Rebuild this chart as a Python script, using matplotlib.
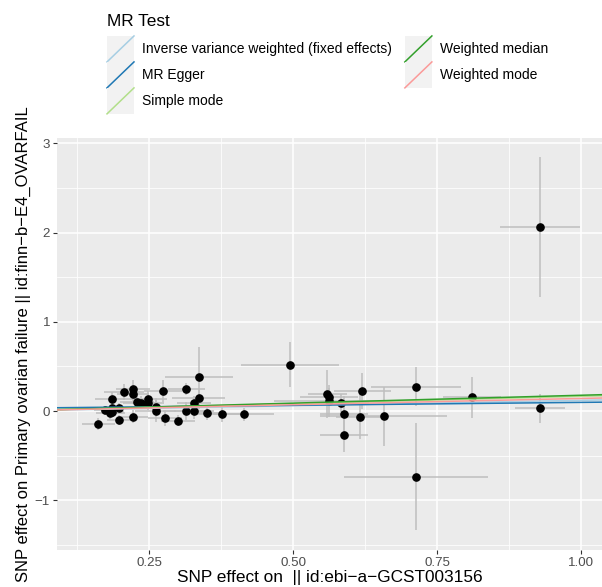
import matplotlib
matplotlib.use("Agg")
import matplotlib.pyplot as plt
from matplotlib.legend_handler import HandlerBase
from matplotlib.patches import Rectangle
from matplotlib.lines import Line2D

plt.rcParams['font.family'] = ['Liberation Sans', 'DejaVu Sans']

# ---- data ----
beta_exp = [0.1615, 0.174, 0.182, 0.186, 0.186, 0.186, 0.198, 0.198, 0.206, 0.222,
            0.222, 0.222, 0.229, 0.235, 0.248, 0.248, 0.262, 0.261, 0.274, 0.277,
            0.300, 0.314, 0.314, 0.328, 0.328, 0.336, 0.336, 0.350, 0.377, 0.414,
            0.494, 0.559, 0.562, 0.562, 0.582, 0.588, 0.588, 0.615, 0.620, 0.657,
            0.713, 0.713, 0.810, 0.928, 0.928]
beta_out = [-0.146, 0.011, -0.026, 0.138, 0.037, -0.008, 0.030, -0.101, 0.217, 0.243,
            0.187, -0.064, 0.104, 0.093, 0.131, 0.086, 0.048, 0.0, 0.224, -0.082,
            -0.109, 0.247, 0.0, 0.086, 0.0, 0.378, 0.142, -0.026, -0.037, -0.037,
            0.519, 0.19, 0.153, 0.116, 0.093, -0.034, -0.273, -0.064, 0.224, -0.060,
            0.273, -0.737, 0.157, 0.030, 2.066]
se_exp = [0.029, 0.02, 0.025, 0.03, 0.022, 0.02, 0.025, 0.022, 0.034, 0.03,
          0.028, 0.025, 0.03, 0.03, 0.032, 0.028, 0.03, 0.035, 0.033, 0.03,
          0.03, 0.032, 0.04, 0.03, 0.035, 0.059, 0.046, 0.03, 0.045, 0.053,
          0.085, 0.034, 0.05, 0.095, 0.05, 0.042, 0.042, 0.04, 0.049, 0.11,
          0.078, 0.125, 0.05, 0.043, 0.069]
se_out = [0.07, 0.05, 0.06, 0.08, 0.06, 0.05, 0.06, 0.06, 0.09, 0.1,
          0.08, 0.07, 0.08, 0.07, 0.09, 0.08, 0.1, 0.12, 0.12, 0.09,
          0.06, 0.07, 0.1, 0.08, 0.09, 0.34, 0.12, 0.08, 0.09, 0.07,
          0.25, 0.27, 0.1, 0.18, 0.1, 0.2, 0.19, 0.25, 0.2, 0.33,
          0.22, 0.6, 0.23, 0.16, 0.785]

methods = ["Inverse variance weighted (fixed effects)", "MR Egger", "Simple mode",
           "Weighted median", "Weighted mode"]
intercepts = [0.0, 0.031, 0.0, 0.0, 0.0]
slopes = [0.12, 0.066, 0.165, 0.177, 0.141]
colors = ["#A6CEE3", "#1F78B4", "#B2DF8A", "#33A02C", "#FB9A99"]

x_ticks = [0.25, 0.50, 0.75, 1.00]
x_ticklabels = ["0.25", "0.50", "0.75", "1.00"]
y_ticks = [-1, 0, 1, 2, 3]
y_ticklabels = ["\u22121", "0", "1", "2", "3"]

# ---- figure ----
W, H = 602, 587
fig = plt.figure(figsize=(W / 100, H / 100), dpi=100)
fig.patch.set_facecolor('white')
ax = fig.add_axes([57 / W, (H - 550) / H, (602 - 57) / W, (550 - 138) / H])
ax.set_facecolor('#EBEBEB')
for s in ax.spines.values():
    s.set_visible(False)

ax.set_xlim(0.0898, 1.036)
ax.set_ylim(-1.558, 3.061)

ax.set_xticks(x_ticks)
ax.set_xticklabels(x_ticklabels)
ax.set_yticks(y_ticks)
ax.set_yticklabels(y_ticklabels)
ax.set_xticks([0.125, 0.375, 0.625, 0.875], minor=True)
ax.set_yticks([-1.5, -0.5, 0.5, 1.5, 2.5], minor=True)
ax.tick_params(which='major', length=3.0, width=0.8, color='#333333',
               labelcolor='#4D4D4D', labelsize=9.6, pad=2.0)
ax.tick_params(which='minor', length=0)
ax.grid(which='major', color='white', lw=1.1)
ax.grid(which='minor', color='white', lw=0.55)
ax.set_axisbelow(True)

# error bars
ax.errorbar(beta_exp, beta_out, yerr=se_out, fmt='none', ecolor='#BEBEBE',
            elinewidth=1.1, capsize=0, zorder=2)
ax.errorbar(beta_exp, beta_out, xerr=se_exp, fmt='none', ecolor='#BEBEBE',
            elinewidth=1.1, capsize=0, zorder=2)
ax.plot(beta_exp, beta_out, 'o', color='black', markersize=5.2, zorder=3)

handles = []
for m, a, b, c in zip(methods, intercepts, slopes, colors):
    h = ax.axline((0, a), slope=b, color=c, lw=1.1, zorder=4, label=m)
    handles.append(h)

ax.set_xlabel("SNP effect on  || id:ebi\u2212a\u2212GCST003156", fontsize=12.4,
              color='black', labelpad=1)
ax.set_ylabel("SNP effect on Primary ovarian failure || id:finn\u2212b\u2212E4_OVARFAIL",
              fontsize=12.0, color='black', labelpad=3)


class KeyHandler(HandlerBase):
    def create_artists(self, legend, orig_handle, xdescent, ydescent, width,
                       height, fontsize, trans):
        r = Rectangle((-xdescent, -ydescent), width, height, facecolor='#F2F2F2',
                      edgecolor='none', transform=trans)
        ln = Line2D([-xdescent, -xdescent + width], [-ydescent, -ydescent + height],
                    color=orig_handle.get_color(), lw=1.1, transform=trans)
        return [r, ln]


fs_px = 10 * 100 / 72
leg = fig.legend(handles=handles, labels=methods, ncol=2, loc='upper left',
                 bbox_to_anchor=(107 / W, 1 - 14 / H), frameon=False,
                 fontsize=10, title="MR Test", title_fontsize=12.4,
                 handlelength=27 / fs_px, handleheight=2.5,
                 labelspacing=0.0, handletextpad=8 / fs_px,
                 columnspacing=13 / fs_px, borderpad=0, borderaxespad=0,
                 alignment='left',
                 handler_map={h: KeyHandler() for h in handles})
leg._legend_box.sep = 5

fig.savefig("out.png", dpi=100)
